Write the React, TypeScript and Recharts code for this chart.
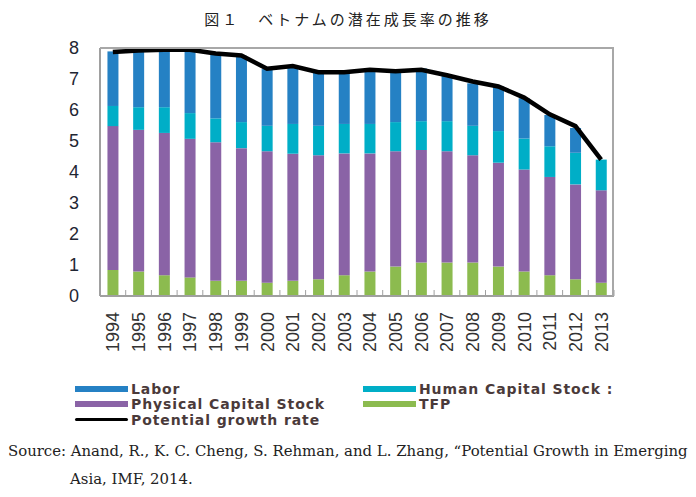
import { ComposedChart, Bar, Line, XAxis, YAxis } from 'recharts';

const years = ['1994', '1995', '1996', '1997', '1998', '1999', '2000', '2001', '2002', '2003', '2004', '2005', '2006', '2007', '2008', '2009', '2010', '2011', '2012', '2013'];
const tfp = [0.84, 0.79, 0.67, 0.6, 0.49, 0.49, 0.43, 0.49, 0.54, 0.67, 0.79, 0.95, 1.08, 1.08, 1.08, 0.95, 0.79, 0.67, 0.54, 0.43];
const physical = [4.64, 4.57, 4.59, 4.47, 4.47, 4.28, 4.24, 4.1, 4.0, 3.93, 3.81, 3.72, 3.63, 3.59, 3.46, 3.35, 3.29, 3.17, 3.06, 2.98];
const human = [0.65, 0.73, 0.83, 0.83, 0.77, 0.84, 0.82, 0.96, 0.95, 0.95, 0.95, 0.94, 0.93, 0.97, 0.95, 1.02, 1.0, 0.99, 1.02, 0.99];
const labor = [1.76, 1.81, 1.86, 2.05, 2.07, 2.14, 1.83, 1.85, 1.71, 1.65, 1.75, 1.65, 1.7, 1.46, 1.37, 1.44, 1.3, 1.01, 0.8, 0.0];
const potential = [7.87, 7.92, 7.94, 7.94, 7.82, 7.76, 7.33, 7.42, 7.22, 7.22, 7.3, 7.25, 7.3, 7.12, 6.92, 6.76, 6.4, 5.86, 5.48, 4.4];
const yTicks = [0, 1, 2, 3, 4, 5, 6, 7, 8];

const data = years.map((y, i) => ({
  year: y,
  tfp: tfp[i],
  physical: physical[i],
  human: human[i],
  labor: labor[i],
  potential: potential[i],
}));

const colors = {
  labor: '#2581c4',
  human: '#00aec7',
  physical: '#8a63a6',
  tfp: '#8cbb4f',
};

const band = 514 / years.length;

// rotated year label + small inner tick mark between categories
const YearTick = (props: any) => {
  const { x, y, payload } = props;
  const axisY = y - 4;
  return (
    <g>
      <line x1={x + band / 2} x2={x + band / 2} y1={axisY} y2={axisY - 6} stroke="#a0a0a0" strokeWidth={1} />
      <text
        x={x}
        y={y}
        transform={`rotate(-90, ${x}, ${y})`}
        textAnchor="end"
        dy="0.36em"
        dx={-12}
        fontSize={18}
        fill="#333"
        fontFamily="'Liberation Sans', Arial, sans-serif"
      >
        {payload.value}
      </text>
    </g>
  );
};

const legendText = {
  fontFamily: "'DejaVu Sans', sans-serif",
  fontSize: 14,
  fontWeight: 'bold' as const,
  color: '#4a3a3a',
  letterSpacing: '0.9px',
};

const Swatch = ({ color }: { color: string }) => (
  <div style={{ width: 53, height: 6, background: color, marginRight: 3, flexShrink: 0 }} />
);

const row = { display: 'flex', alignItems: 'center', height: 15.5 };

const App = () => {
  return (
    <div style={{ position: 'absolute', left: 0, top: 0, width: 696, height: 497, background: '#fff' }}>
      <div
        style={{
          position: 'absolute',
          top: 8,
          left: 0,
          width: 696,
          textAlign: 'center',
          fontFamily: "'Noto Sans CJK JP', sans-serif",
          fontSize: 15,
          color: '#222',
          letterSpacing: '3px',
        }}
      >
        図１　ベトナムの潜在成長率の推移
      </div>

      <div style={{ position: 'absolute', left: 0, top: 0 }}>
        <ComposedChart
          width={696}
          height={380}
          data={data}
          margin={{ top: 48, right: 82, bottom: 0, left: 60 }}
          barCategoryGap="29%"
        >
          <XAxis
            dataKey="year"
            axisLine={{ stroke: '#a0a0a0', strokeWidth: 2 }}
            tickLine={false}
            tickSize={0}
            tickMargin={4}
            height={84}
            interval={0}
            tick={<YearTick />}
          />
          <YAxis
            domain={[0, 8]}
            ticks={yTicks}
            width={40}
            axisLine={{ stroke: '#a0a0a0', strokeWidth: 2 }}
            tickLine={false}
            tickSize={0}
            tickMargin={21}
            tick={{ fontSize: 18, fill: '#1f2633', fontFamily: "'Liberation Sans', Arial, sans-serif" }}
          />
          <Bar dataKey="tfp" stackId="a" fill={colors.tfp} isAnimationActive={false} />
          <Bar dataKey="physical" stackId="a" fill={colors.physical} isAnimationActive={false} />
          <Bar dataKey="human" stackId="a" fill={colors.human} isAnimationActive={false} />
          <Bar dataKey="labor" stackId="a" fill={colors.labor} isAnimationActive={false} />
          <Line
            dataKey="potential"
            type="linear"
            stroke="#000"
            strokeWidth={4.5}
            dot={false}
            isAnimationActive={false}
          />
        </ComposedChart>
      </div>

      {/* plot frame */}
      <div
        style={{
          position: 'absolute',
          left: 100,
          top: 47,
          width: 514,
          height: 249,
          borderTop: '2px solid #a8a8a8',
          borderRight: '2px solid #a8a8a8',
          boxSizing: 'border-box',
          pointerEvents: 'none',
        }}
      />

      {/* legend */}
      <div style={{ position: 'absolute', left: 75, top: 381, ...legendText }}>
        <div style={row}>
          <Swatch color={colors.labor} />
          <span>Labor</span>
        </div>
        <div style={row}>
          <Swatch color={colors.physical} />
          <span>Physical Capital Stock</span>
        </div>
        <div style={row}>
          <div style={{ width: 53, height: 3, background: '#000', marginRight: 3, borderRadius: 2 }} />
          <span>Potential growth rate</span>
        </div>
      </div>
      <div style={{ position: 'absolute', left: 363, top: 381, width: 262, overflow: 'hidden', whiteSpace: 'nowrap', ...legendText }}>
        <div style={row}>
          <Swatch color={colors.human} />
          <span>Human Capital Stock :</span>
        </div>
        <div style={row}>
          <Swatch color={colors.tfp} />
          <span>TFP</span>
        </div>
      </div>

      {/* source */}
      <div
        style={{
          position: 'absolute',
          left: 8,
          top: 437,
          width: 690,
          fontFamily: "'DejaVu Serif', serif",
          fontSize: 14.9,
          color: '#222',
          lineHeight: '28px',
          whiteSpace: 'nowrap',
        }}
      >
        <div>Source: Anand, R., K. C. Cheng, S. Rehman, and L. Zhang, “Potential Growth in Emerging</div>
        <div style={{ paddingLeft: 62 }}>Asia, IMF, 2014.</div>
      </div>
    </div>
  );
};

export default App;
